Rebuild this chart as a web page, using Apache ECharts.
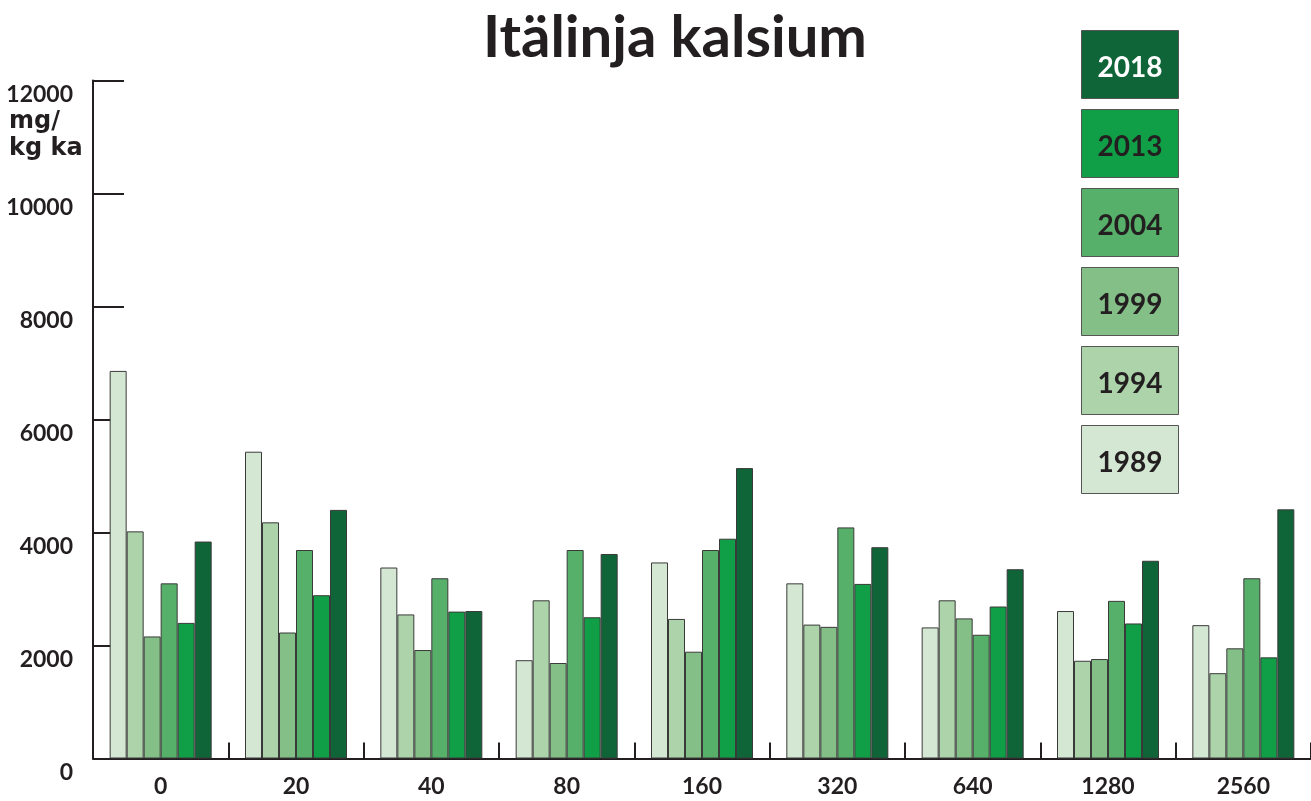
<!DOCTYPE html>
<html>
<head>
<meta charset="utf-8">
<script src="https://cdn.jsdelivr.net/npm/echarts@6/dist/echarts.min.js"></script>
<style>
  html, body { margin: 0; padding: 0; background: #ffffff; }
  #chart { width: 1311px; height: 801px; }
</style>
</head>
<body>
<div id="chart"></div>
<script>
// Distance categories along the line
const categories = ['0', '20', '40', '80', '160', '320', '640', '1280', '2560'];

// Sampling years, oldest first
const years = ['1989', '1994', '1999', '2004', '2013', '2018'];

// Calcium, mg/kg dry matter, per year across the distances
const ca1989 = [6860, 5430, 3380, 1740, 3470, 3100, 2320, 2610, 2360];
const ca1994 = [4020, 4180, 2550, 2800, 2470, 2370, 2800, 1730, 1510];
const ca1999 = [2160, 2230, 1920, 1690, 1890, 2330, 2480, 1760, 1950];
const ca2004 = [3100, 3690, 3190, 3690, 3690, 4090, 2190, 2790, 3190];
const ca2013 = [2400, 2890, 2600, 2500, 3890, 3090, 2690, 2390, 1790];
const ca2018 = [3840, 4400, 2610, 3620, 5140, 3740, 3350, 3500, 4410];

const seriesValues = [ca1989, ca1994, ca1999, ca2004, ca2013, ca2018];

const yTicks = { min: 0, max: 12000, interval: 2000 };

const colors = ['#d4e7d3', '#acd3a9', '#83bf87', '#57b06a', '#109f47', '#0f6538'];
const labelColors = ['#231f20', '#231f20', '#231f20', '#231f20', '#231f20', '#ffffff'];

const FONT = 'Lato, "Open Sans", sans-serif';
const INK = '#231f20';

const chart = echarts.init(document.getElementById('chart'), null, { renderer: 'canvas' });

// Year boxes, newest on top, with the year written inside
const keyBoxes = years.slice().reverse().map((y, i) => {
  const idx = years.length - 1 - i;
  return {
    type: 'group',
    left: 1081,
    top: 30 + i * 79,
    children: [
      {
        type: 'rect',
        shape: { x: 0, y: 0, width: 97, height: 68 },
        style: { fill: colors[idx], stroke: '#555555', lineWidth: 1 }
      },
      {
        type: 'text',
        x: 48.5,
        y: 37,
        style: {
          text: y,
          fill: labelColors[idx],
          font: 'bold 28px ' + FONT,
          textAlign: 'center',
          textVerticalAlign: 'middle'
        }
      }
    ]
  };
});

chart.setOption({
  animation: false,
  backgroundColor: '#ffffff',
  title: {
    text: 'Itälinja kalsium',
    left: 670,
    textAlign: 'center',
    top: 4,
    textStyle: { fontFamily: FONT, fontWeight: 'bold', fontSize: 58, color: INK }
  },
  grid: { left: 93, right: -6, top: 80.5, bottom: 42.5, containLabel: false },
  xAxis: {
    type: 'category',
    data: categories,
    axisLine: { lineStyle: { color: INK, width: 2 } },
    axisTick: { show: true, inside: true, length: 16, lineStyle: { color: INK, width: 2 } },
    axisLabel: { color: INK, fontFamily: FONT, fontWeight: 'bold', fontSize: 23, margin: 17 }
  },
  yAxis: {
    type: 'value',
    min: yTicks.min,
    max: yTicks.max,
    interval: yTicks.interval,
    splitLine: { show: false },
    axisLine: { show: true, lineStyle: { color: INK, width: 2 } },
    axisTick: { show: true, inside: true, length: 31, lineStyle: { color: INK, width: 2 } },
    axisLabel: {
      color: INK, fontFamily: FONT, fontWeight: 'bold', fontSize: 23,
      margin: 20, verticalAlign: 'top', padding: [3, 0, 0, 0],
      formatter: (v) => String(v)
    }
  },
  graphic: [
    {
      type: 'text',
      left: 9,
      top: 108,
      style: {
        text: 'mg/\nkg ka',
        fill: INK,
        font: 'bold 24px "DejaVu Sans", sans-serif',
        lineHeight: 27
      }
    }
  ].concat(keyBoxes),
  series: years.map((y, i) => ({
    name: y,
    type: 'bar',
    data: seriesValues[i],
    barWidth: 17,
    barGap: '0%',
    itemStyle: { color: colors[i], borderColor: '#3a3a3a', borderWidth: 1 }
  }))
});
</script>
</body>
</html>
